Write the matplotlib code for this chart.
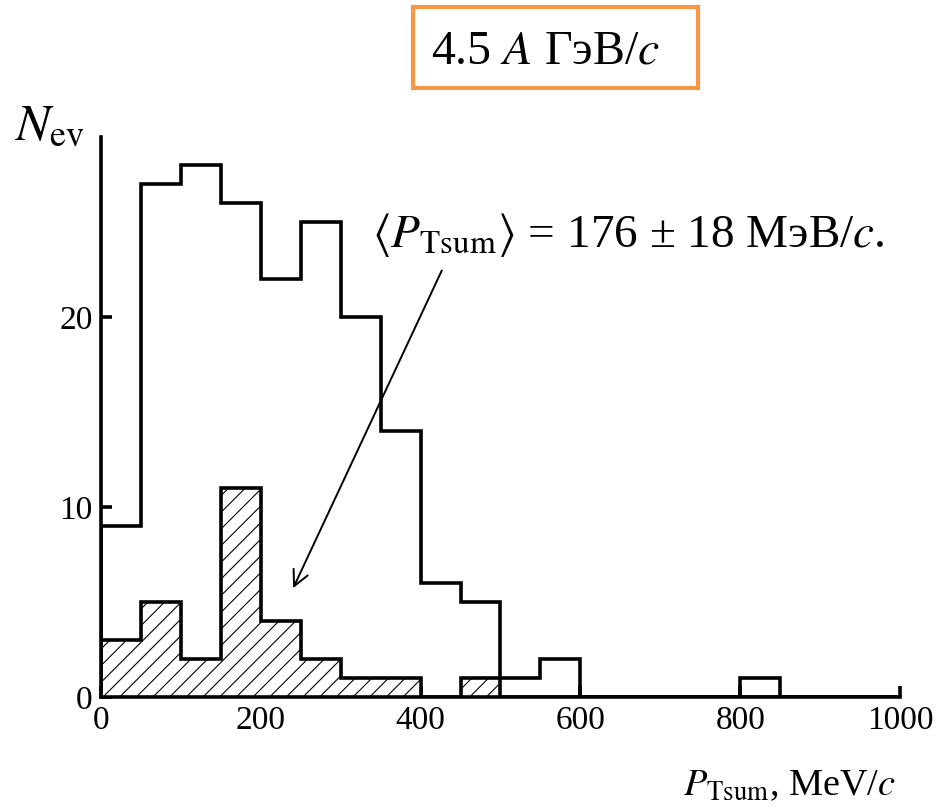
import numpy as np
import matplotlib
matplotlib.use("Agg")
import matplotlib.pyplot as plt
from matplotlib.patches import Rectangle

plt.rcParams['font.family'] = ['Liberation Serif', 'DejaVu Serif']
plt.rcParams['mathtext.fontset'] = 'stix'
plt.rcParams['hatch.linewidth'] = 0.8

# Data
edges = np.arange(0, 1050, 50)
all_counts = [9, 27, 28, 26, 22, 25, 20, 14, 6, 5, 1, 2, 0, 0, 0, 0, 1, 0, 0, 0]
selected_counts = [3, 5, 2, 11, 4, 2, 1, 1, 0, 1, 0, 0, 0, 0, 0, 0, 0, 0, 0, 0]
xticks = [0, 200, 400, 600, 800, 1000]
yticks = [0, 10, 20]

fig = plt.figure(figsize=(9.36, 8.08), dpi=100)
ax = fig.add_axes([101/936, 1-697/808, (900-101)/936, (697-137)/808])

ax.stairs(selected_counts, edges, fill=True, hatch='//', facecolor='white',
          edgecolor='black', linewidth=0, zorder=2)
ax.stairs(selected_counts, edges, fill=False, color='black', linewidth=2.6, zorder=3)
ax.stairs(all_counts, edges, fill=False, color='black', linewidth=2.6, zorder=4)

ax.set_xlim(0, 1000)
ax.set_ylim(0, 29.5)
ax.set_xticks(xticks)
ax.set_yticks(yticks)
ax.tick_params(direction='in', length=8, width=2.6, labelsize=24, pad=6)
for s in ['top', 'right']:
    ax.spines[s].set_visible(False)
for s in ['left', 'bottom']:
    ax.spines[s].set_linewidth(2.6)

ax.annotate('', xy=(239, 5.6), xytext=(428, 22.6),
            arrowprops=dict(arrowstyle='->', lw=1.4, color='black', mutation_scale=28),
            zorder=5)
ax.text(339, 23.7, r'$\langle P_{\rm Tsum}\rangle$ = 176 ± 18 МэВ/$c$.',
        fontsize=34, ha='left', va='baseline', zorder=6)

fig.text(14/936, 1-141/808, r'$N_{\rm ev}$', fontsize=37, ha='left', va='baseline')
fig.text(896/936, 1-795/808, r'$P_{\rm Tsum}$, MeV/$c$', fontsize=27.5,
         ha='right', va='baseline')

fig.patches.append(Rectangle((413/936, 1-88/808), 285/936, 81/808,
                             transform=fig.transFigure, fill=False,
                             edgecolor='#F79646', linewidth=3))
fig.text(545/936, 1-63/808, r'4.5 $A$ ГэВ/$c$', fontsize=34.5, ha='center', va='baseline')

fig.savefig('out.png', dpi=100)
